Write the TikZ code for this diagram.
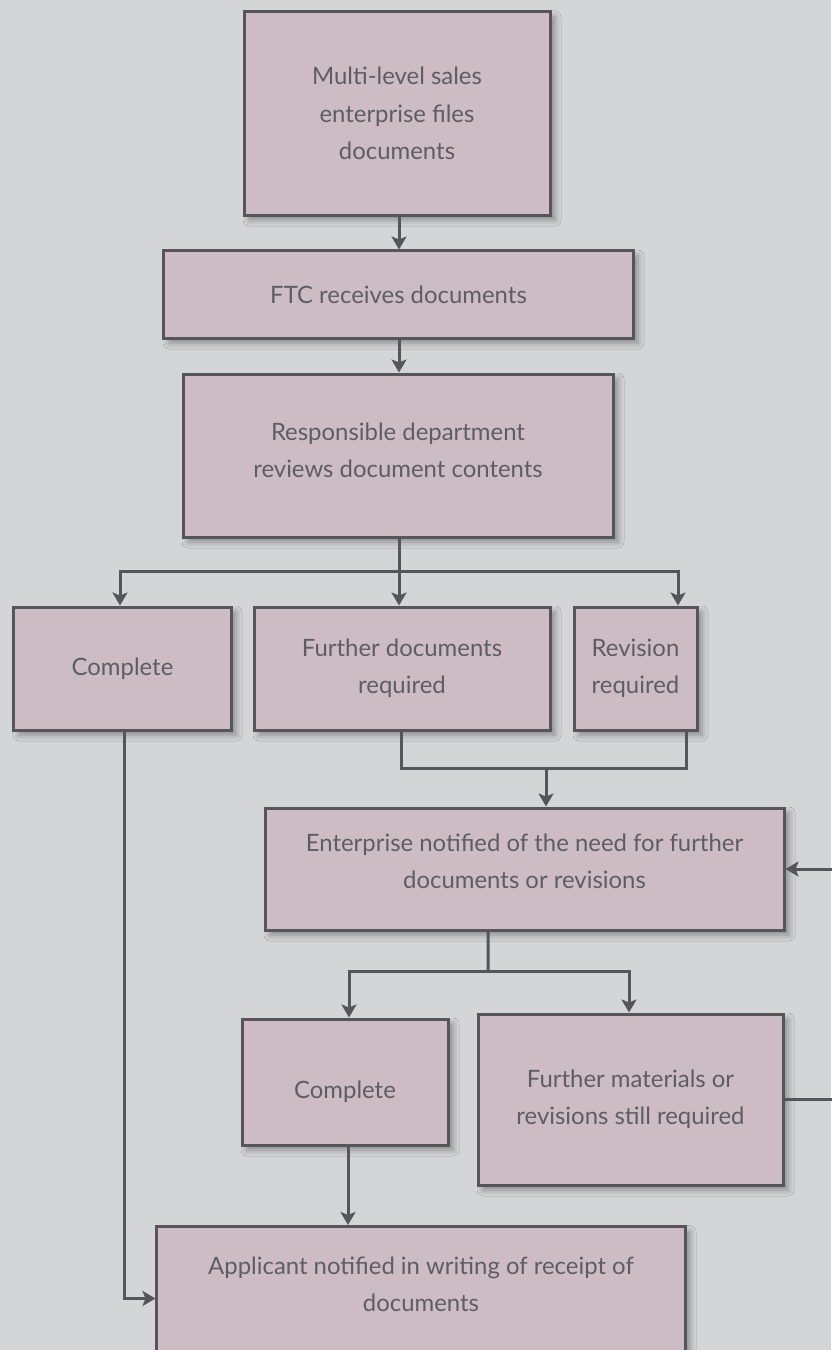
\documentclass[tikz,border=0pt]{standalone}
\usepackage{fontspec}
\setmainfont{Lato}
\usetikzlibrary{arrows.meta,shadows.blur,calc}
\definecolor{bg}{HTML}{D4D5D7}
\definecolor{boxfill}{HTML}{CDBCC4}
\definecolor{edge}{HTML}{55555A}
\definecolor{txt}{HTML}{5E5E62}
\begin{document}
\begin{tikzpicture}[x=1bp,y=-1bp,
  box/.style={draw=edge,line width=3bp,fill=boxfill,text=txt,align=center,
    font=\fontsize{24}{37.5}\selectfont,inner sep=0pt,
    blur shadow={shadow xshift=5bp,shadow yshift=-5bp,shadow blur radius=6bp,shadow opacity=35}},
  conn/.style={draw=edge,line width=3bp},
  arr/.style={conn,-{Stealth[length=13bp,width=15bp,inset=3bp]}}]
\fill[bg] (0,0) rectangle (831,1350);
\useasboundingbox (0,0) rectangle (831,1350);

\node[box,minimum width=306bp,minimum height=203bp] (b1) at (397,113.5) {Multi-level sales\\enterprise files\\documents};
\node[box,minimum width=469bp,minimum height=87bp] (b2) at (398.5,294.5) {FTC receives documents};
\node[box,minimum width=430bp,minimum height=163bp,text depth=11bp] (b3) at (398,455.5) {Responsible department\\reviews document contents};
\node[box,minimum width=217bp,minimum height=123bp] (c1) at (122.5,668.5) {Complete};
\node[box,minimum width=296bp,minimum height=123bp] (fd) at (402,668.5) {Further documents\\required};
\node[box,minimum width=123bp,minimum height=123bp] (rv) at (635.5,668.5) {Revision\\required};
\node[box,minimum width=519bp,minimum height=122bp,text depth=15bp] (ent) at (524.5,869) {Enterprise notified of the need for further\\documents or revisions};
\node[box,minimum width=206bp,minimum height=126bp,text height=38bp,text depth=6bp] (c2) at (345,1082) {Complete};
\node[box,minimum width=305bp,minimum height=171bp] (fm) at (630.5,1099.5) {Further materials or\\revisions still required};
\node[box,minimum width=528bp,minimum height=155bp,anchor=north,text depth=40bp] (ap) at (421,1225) {Applicant notified in writing of receipt of\\documents};

% top chain
\draw[arr] ([xshift=2bp]b1.south) -- ([xshift=2bp]b1.south |- b2.north);
\draw[arr] ([xshift=0.5bp]b2.south) -- ([xshift=0.5bp]b2.south |- b3.north);

% first branch
\coordinate (j1) at ($(b3.south)+(1,33)$);
\draw[conn] (b3.south -| j1) -- (j1);
\draw[arr] (j1) -| ([xshift=-2.5bp]c1.north);
\draw[arr] (j1) -- (j1 |- fd.north);
\draw[arr] (j1) -| ([xshift=42.5bp]rv.north);

% merge
\coordinate (j2) at ($(fd.south)+(144,37)$);
\draw[conn] ([xshift=-1bp]fd.south) -- ++(0,37) -| ([xshift=50.5bp]rv.south);
\draw[arr] (j2) -- (j2 |- ent.north);

% second branch
\coordinate (j3) at ($(ent.south)+(-36.5,40)$);
\draw[conn] ([xshift=-36.5bp]ent.south) -- (j3);
\draw[arr] (j3) -| ([xshift=4bp]c2.north);
\draw[arr] (j3) -| ([xshift=-1.5bp]fm.north);

% to applicant
\draw[arr] ([xshift=3bp]c2.south) -- ([xshift=3bp]c2.south |- ap.north);
\draw[arr] ([xshift=1.5bp]c1.south) |- ([yshift=5.5bp]ap.west);

% loop back
\draw[arr] (fm.east) -- ++(60,0) |- (ent.east);
\end{tikzpicture}
\end{document}
